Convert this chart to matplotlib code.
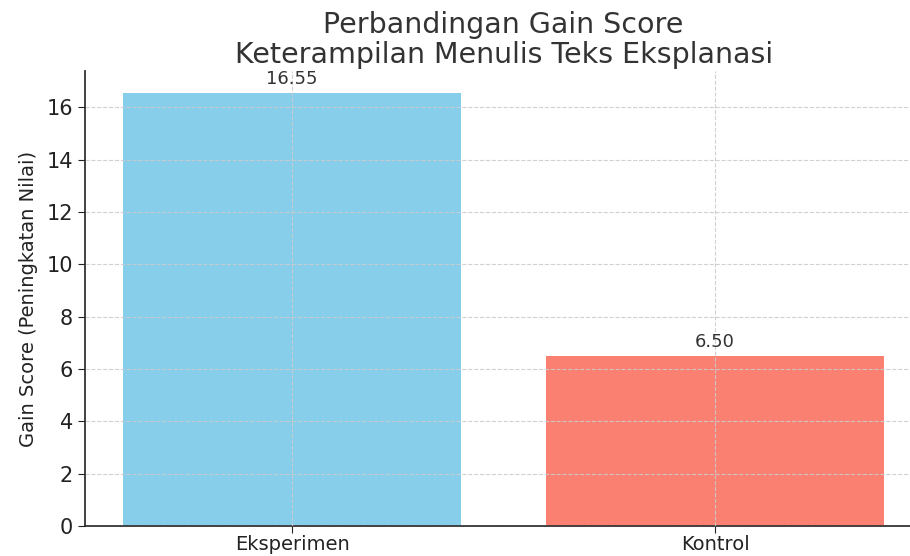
import matplotlib.pyplot as plt

groups = ["Eksperimen", "Kontrol"]
gain_scores = [16.55, 6.50]
bar_colors = ["#87CEEB", "#FA8072"]

fig = plt.figure(figsize=(9.1, 5.56), dpi=100)
ax = fig.add_axes([0.0934, 0.054, 0.920, 0.8176])

bars = ax.bar(groups, gain_scores, color=bar_colors, width=0.8, zorder=2)
ax.set_xlim(-0.49, 1.49)
ax.set_ylim(0, max(gain_scores) * 1.05)

for b, v in zip(bars, gain_scores):
    ax.text(b.get_x() + b.get_width() / 2, v + 0.2, f"{v:.2f}",
            ha="center", va="bottom", fontsize=13, color="#333333")

ax.set_title("Perbandingan Gain Score\nKeterampilan Menulis Teks Eksplanasi",
             fontsize=20.5, color="#333333", pad=6, linespacing=1.1)
ax.set_ylabel("Gain Score (Peningkatan Nilai)", fontsize=14, color="#222222",
              labelpad=6)

ax.grid(True, linestyle="--", color="#cccccc", linewidth=0.8, alpha=0.9, zorder=0)
ax.set_axisbelow(False)
for s in ("top", "right"):
    ax.spines[s].set_visible(False)
for s in ("left", "bottom"):
    ax.spines[s].set_color("#333333")
    ax.spines[s].set_linewidth(1.3)
ax.tick_params(labelsize=15, colors="#222222", length=5)
ax.tick_params(axis="x", labelsize=14, pad=1.5)

fig.savefig("out.png", dpi=100)
